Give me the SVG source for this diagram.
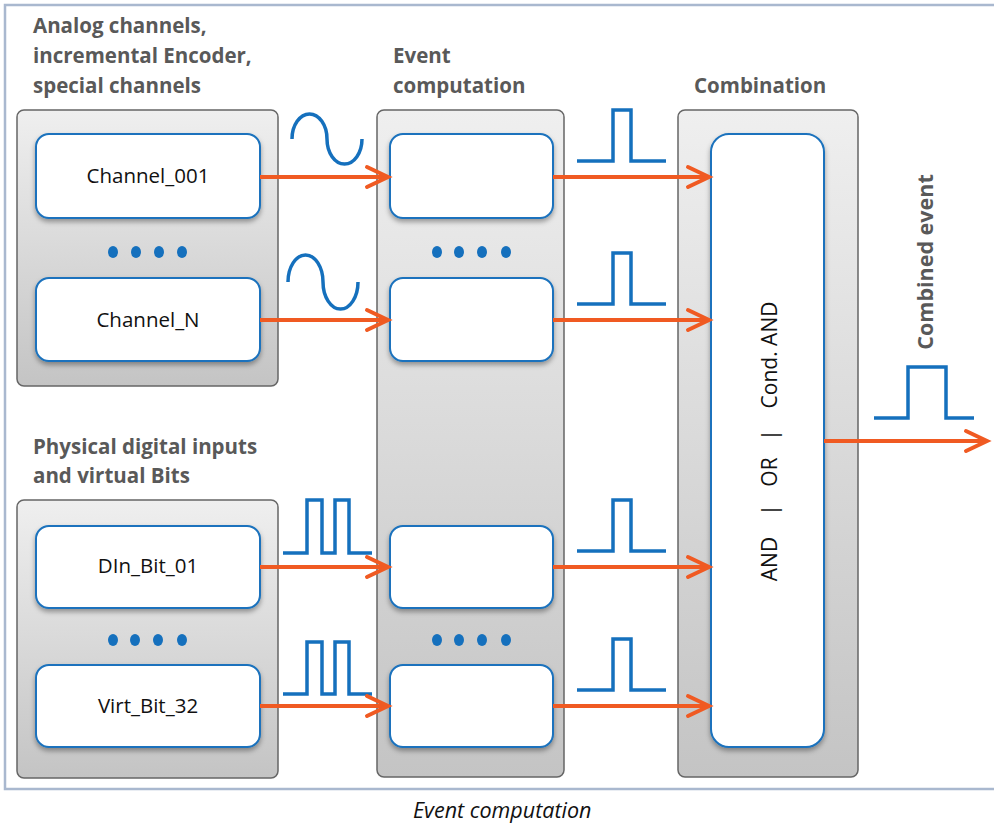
<svg xmlns="http://www.w3.org/2000/svg" width="994" height="825" viewBox="0 0 994 825">
<defs>
<linearGradient id="panelGrad" x1="0" y1="0" x2="0" y2="1">
<stop offset="0" stop-color="#efefef"/>
<stop offset="1" stop-color="#c4c4c4"/>
</linearGradient>
<filter id="shadow" x="-10%" y="-10%" width="120%" height="130%">
<feDropShadow dx="0" dy="3" stdDeviation="2.5" flood-color="#000" flood-opacity="0.35"/>
</filter>
<marker id="chev" markerUnits="userSpaceOnUse" markerWidth="30" markerHeight="30" refX="24" refY="12" orient="auto" overflow="visible">
<path d="M3,2 L24,12 L3,22" fill="none" stroke="#f05a22" stroke-width="4" stroke-linecap="round" stroke-linejoin="miter"/>
</marker>
<style>
.panel{fill:url(#panelGrad);stroke:#666;stroke-width:1.5}
.box{fill:#fff;stroke:#1a72bd;stroke-width:2;filter:url(#shadow)}
.hdr{font-family:"Open Sans","DejaVu Sans",sans-serif;font-weight:bold;font-size:20.5px;fill:#595959}
.lbl{font-family:"Open Sans","DejaVu Sans",sans-serif;font-size:20.5px;fill:#111}
.op{font-family:"Open Sans","DejaVu Sans",sans-serif;font-size:21px;fill:#111;text-anchor:middle}
.sig{fill:none;stroke:#1570bd;stroke-width:3.5}
.dot{fill:#1570bd}
.arr{fill:none;stroke:#f05a22;stroke-width:4;marker-end:url(#chev)}
.cap{font-family:"Open Sans","DejaVu Sans",sans-serif;font-style:italic;font-size:21.5px;fill:#111}
</style>
</defs>
<rect x="5" y="5" width="1000" height="784" fill="#fff" stroke="#a9b8cf" stroke-width="2.5"/>

<g id="hdr-analog">
<text class="hdr" x="33" y="33">Analog channels,</text>
<text class="hdr" x="33" y="63">incremental Encoder,</text>
<text class="hdr" x="33" y="93">special channels</text>
</g>
<g id="hdr-event">
<text class="hdr" x="393" y="63">Event</text>
<text class="hdr" x="393" y="93">computation</text>
</g>
<g id="hdr-comb"><text class="hdr" x="694" y="93">Combination</text></g>
<g id="hdr-digital">
<text class="hdr" x="33" y="454">Physical digital inputs</text>
<text class="hdr" x="33" y="483">and virtual Bits</text>
</g>

<g id="panel-analog">
<rect class="panel" x="17" y="110" width="261" height="276" rx="7"/>
<g id="ch001"><rect class="box" x="36" y="134" width="224" height="84" rx="13"/><text class="lbl" x="148" y="183" text-anchor="middle">Channel_001</text></g>
<g id="dots-analog"><ellipse class="dot" cx="113" cy="252" rx="5" ry="6"/><ellipse class="dot" cx="136" cy="252" rx="5" ry="6"/><ellipse class="dot" cx="159" cy="252" rx="5" ry="6"/><ellipse class="dot" cx="182" cy="252" rx="5" ry="6"/></g>
<g id="chN"><rect class="box" x="36" y="278" width="224" height="83" rx="13"/><text class="lbl" x="148" y="327" text-anchor="middle">Channel_N</text></g>
</g>

<g id="panel-digital">
<rect class="panel" x="17" y="500" width="261" height="278" rx="7"/>
<g id="din"><rect class="box" x="36" y="526" width="224" height="82" rx="13"/><text class="lbl" x="148" y="573" text-anchor="middle">DIn_Bit_01</text></g>
<g id="dots-digital"><ellipse class="dot" cx="113" cy="640" rx="5" ry="6"/><ellipse class="dot" cx="135" cy="640" rx="5" ry="6"/><ellipse class="dot" cx="158" cy="640" rx="5" ry="6"/><ellipse class="dot" cx="182" cy="640" rx="5" ry="6"/></g>
<g id="virt"><rect class="box" x="36" y="665" width="224" height="82" rx="13"/><text class="lbl" x="148" y="713" text-anchor="middle">Virt_Bit_32</text></g>
</g>

<g id="panel-event">
<rect class="panel" x="377" y="110" width="187" height="667" rx="7"/>
<g id="ev1"><rect class="box" x="390" y="134" width="163" height="84" rx="13"/></g>
<g id="dots-ev1"><ellipse class="dot" cx="437" cy="252" rx="5" ry="6"/><ellipse class="dot" cx="459" cy="252" rx="5" ry="6"/><ellipse class="dot" cx="482" cy="252" rx="5" ry="6"/><ellipse class="dot" cx="506" cy="252" rx="5" ry="6"/></g>
<g id="ev2"><rect class="box" x="390" y="278" width="163" height="83" rx="13"/></g>
<g id="ev3"><rect class="box" x="390" y="526" width="163" height="82" rx="13"/></g>
<g id="dots-ev2"><ellipse class="dot" cx="437" cy="640" rx="5" ry="6"/><ellipse class="dot" cx="459" cy="640" rx="5" ry="6"/><ellipse class="dot" cx="482" cy="640" rx="5" ry="6"/><ellipse class="dot" cx="506" cy="640" rx="5" ry="6"/></g>
<g id="ev4"><rect class="box" x="390" y="665" width="163" height="82" rx="13"/></g>
</g>

<g id="panel-comb">
<rect class="panel" x="678" y="110" width="180" height="667" rx="7"/>
<g id="comb"><rect class="box" x="711" y="134" width="113" height="613" rx="18"/>
<g transform="translate(777,0) rotate(-90)">
<text class="op" x="-559" y="0">AND</text>
<text class="op" x="-510" y="0">|</text>
<text class="op" x="-472" y="0">OR</text>
<text class="op" x="-435" y="0">|</text>
<text class="op" x="-355" y="0">Cond. AND</text>
</g>
</g>
</g>

<g id="out-label"><text transform="translate(933,262) rotate(-90)" class="hdr" style="font-size:21.5px" text-anchor="middle">Combined event</text></g>

<g id="signals">
<path class="sig" d="M292,139 A17.5,25 0 0 1 327,139 A17.5,25 0 0 0 362,139"/>
<path class="sig" d="M288,282 A17.5,27 0 0 1 323,282 A17.5,27 0 0 0 358,282"/>
<path class="sig" d="M283,553 H307 V500 H322 V553 H335 V500 H349 V553 H372"/>
<path class="sig" d="M283,694 H307 V642 H322 V694 H335 V642 H349 V694 H372"/>
<path class="sig" d="M577,161 H613 V110 H631 V161 H666"/>
<path class="sig" d="M577,304 H613 V253 H631 V304 H666"/>
<path class="sig" d="M577,551 H613 V500 H631 V551 H666"/>
<path class="sig" d="M577,690 H613 V639 H631 V690 H666"/>
<path class="sig" d="M874,418 H908 V367 H946 V418 H974"/>
</g>

<g id="connectors">
<line class="arr" x1="260" y1="177" x2="388" y2="177"/>
<line class="arr" x1="260" y1="320" x2="388" y2="320"/>
<line class="arr" x1="260" y1="567" x2="388" y2="567"/>
<line class="arr" x1="260" y1="706" x2="388" y2="706"/>
<line class="arr" x1="553" y1="177" x2="709" y2="177"/>
<line class="arr" x1="553" y1="320" x2="709" y2="320"/>
<line class="arr" x1="553" y1="567" x2="709" y2="567"/>
<line class="arr" x1="553" y1="706" x2="709" y2="706"/>
<line class="arr" x1="824" y1="441" x2="987" y2="441"/>
</g>

<text class="cap" x="413" y="818">Event computation</text>
</svg>
